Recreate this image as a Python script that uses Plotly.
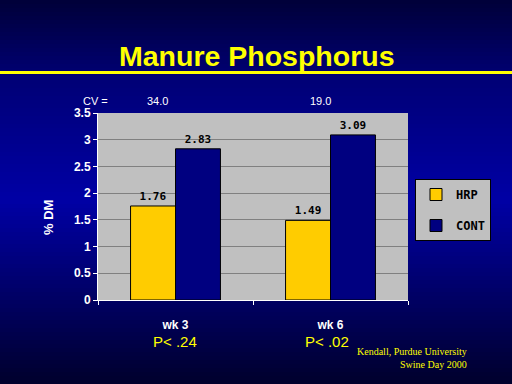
import plotly.graph_objects as go

categories = ["wk 3", "wk 6"]
hrp = [1.76, 1.49]
cont = [2.83, 3.09]
hrp_labels = ["1.76", "1.49"]
cont_labels = ["2.83", "3.09"]
cv_values = ["34.0", "19.0"]
p_values = ["P< .24", "P< .02"]
y_ticks = [0, 0.5, 1, 1.5, 2, 2.5, 3, 3.5]
y_tick_text = ["0", "0.5", "1", "1.5", "2", "2.5", "3", "3.5"]

label_font = dict(family="DejaVu Sans Mono", size=11, color="black", weight="bold")

fig = go.Figure()
fig.add_trace(go.Bar(name="HRP", x=categories, y=hrp, text=hrp_labels, textposition="outside",
                     marker=dict(color="#FFCC00", line=dict(color="black", width=1)),
                     textfont=label_font, cliponaxis=False, legendgroup="a"))
fig.add_trace(go.Bar(name="CONT", x=categories, y=cont, text=cont_labels, textposition="outside",
                     marker=dict(color="#000080", line=dict(color="black", width=1)),
                     textfont=label_font, cliponaxis=False, legendgroup="b"))

PT, PH = 113.0, 187.0  # plot top (px) and plot height (px)


def py(px):
    return 1 + (PT - px) / PH


def pxx(px):
    return (px - 98) / 310.0


# background gradient
stops = [(0, (0, 0, 56)), (80, (0, 0, 118)), (200, (0, 0, 165)), (290, (0, 0, 105)), (384, (0, 0, 44))]
shapes = []
n = 96
H = 384.0
for i in range(n):
    y0 = i * H / n
    y1 = (i + 1) * H / n
    ym = (y0 + y1) / 2
    for j in range(len(stops) - 1):
        if stops[j][0] <= ym <= stops[j + 1][0]:
            t = (ym - stops[j][0]) / (stops[j + 1][0] - stops[j][0])
            c = [round(stops[j][1][k] + t * (stops[j + 1][1][k] - stops[j][1][k])) for k in range(3)]
            break
    shapes.append(dict(type="rect", xref="paper", yref="paper", layer="below",
                       x0=-0.4, x1=1.5, y0=py(y1 + 0.5), y1=py(y0),
                       fillcolor="rgb(%d,%d,%d)" % tuple(c), line=dict(width=0)))
# plot area background
shapes.append(dict(type="rect", xref="paper", yref="paper", layer="below", x0=0, x1=1, y0=0, y1=1,
                   fillcolor="#C0C0C0", line=dict(width=0)))
# yellow rule under the title
shapes.append(dict(type="line", xref="paper", yref="paper", x0=-0.4, x1=1.5,
                   y0=py(72.5), y1=py(72.5), line=dict(color="#FFFF00", width=3)))

annotations = [
    dict(text="<b>Manure Phosphorus</b>", xref="paper", yref="paper", x=pxx(257), xanchor="center",
         y=py(38), showarrow=False, font=dict(family="Liberation Sans", size=28.5, color="#FFFF00")),
    dict(text="CV =", xref="paper", yref="paper", x=pxx(95), xanchor="center", y=py(93),
         showarrow=False, font=dict(family="Liberation Sans", size=11, color="white")),
    dict(text="<b>% DM</b>", xref="paper", yref="paper", x=pxx(48), xanchor="center", y=py(218),
         showarrow=False, textangle=-90, font=dict(family="Liberation Sans", size=13, color="white")),
    dict(text="Kendall, Purdue University<br>Swine Day 2000", xref="paper", yref="paper",
         x=pxx(469), y=py(372), xanchor="right", align="right",
         showarrow=False, font=dict(family="Liberation Serif", size=10, color="#FFFF00")),
]
cv_x = [157, 320]
for i, cv in enumerate(cv_values):
    annotations.append(dict(text=cv, xref="paper", yref="paper", x=pxx(cv_x[i]), xanchor="center",
                            y=py(93), showarrow=False,
                            font=dict(family="Liberation Sans", size=11, color="white")))
p_x = [175, 327]
for i, p in enumerate(p_values):
    annotations.append(dict(text=p, xref="paper", yref="paper", x=pxx(p_x[i]), xanchor="center", y=py(352),
                            showarrow=False, font=dict(family="Liberation Sans", size=15, color="#FFFF00")))

fig.update_layout(
    width=512, height=384,
    margin=dict(l=98, r=104, t=113, b=84),
    paper_bgcolor="#000070",
    plot_bgcolor="#C0C0C0",
    barmode="group", bargap=0.42, bargroupgap=0,
    shapes=shapes, annotations=annotations,
    showlegend=True,
    legend=dict(x=pxx(415), y=py(179), xanchor="left", yanchor="top",
                bgcolor="#C0C0C0", bordercolor="black", borderwidth=1,
                font=dict(family="DejaVu Sans Mono", size=12, color="black", weight="bold"),
                traceorder="grouped", tracegroupgap=12, itemwidth=30),
    xaxis=dict(showline=True, linecolor="white", linewidth=1, ticks="outside", tickcolor="white",
               ticklen=4, tickson="boundaries", showgrid=False,
               tickfont=dict(family="Liberation Sans", size=12, color="white", weight="bold"),
               ticklabelstandoff=14),
    yaxis=dict(range=[0, 3.5], tickvals=y_ticks, ticktext=y_tick_text,
               showline=True, linecolor="white", linewidth=1, ticks="outside", tickcolor="white", ticklen=4,
               showgrid=True, gridcolor="#808080", gridwidth=1, zeroline=False,
               tickfont=dict(family="Liberation Sans", size=12, color="white", weight="bold")),
)
fig.write_html("out.html", config={"displayModeBar": False},
               post_script="document.body.style.margin='0';")
